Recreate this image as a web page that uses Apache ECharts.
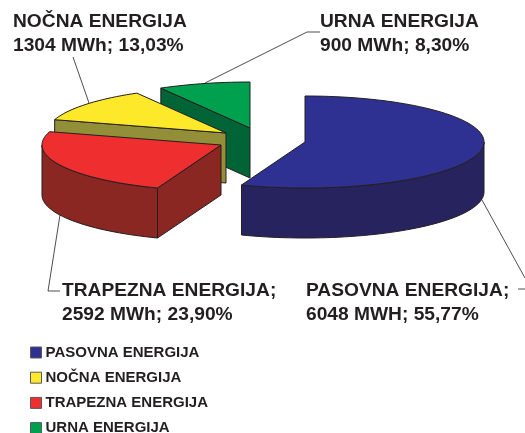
<!DOCTYPE html>
<html><head><meta charset="utf-8">
<style>html,body{margin:0;padding:0;background:#fff;height:433px;overflow:hidden}#c{width:525px;height:450px}</style>
<script src="https://cdn.jsdelivr.net/npm/echarts@6/dist/echarts.min.js"></script>
</head><body><div id="c"></div>
<script>
// Data
var categories = ['PASOVNA ENERGIJA', 'NOČNA ENERGIJA', 'TRAPEZNA ENERGIJA', 'URNA ENERGIJA'];
var mwh = [6048, 1304, 2592, 900];
var valueLabels = ['6048 MWH; 55,77%', '1304 MWh; 13,03%', '2592 MWh; 23,90%', '900 MWh; 8,30%'];
var clockwiseOrder = [0, 2, 1, 3];

// Style and layout
var topColors = ['#2e3192', '#fde92a', '#ee2e2f', '#00a14e'];
var sideColors = ['#27235f', '#938e38', '#8a2722', '#006437'];
var ink = '#231f20';
var RX = 179, RY = 46, DEPTH = 50;
var centers = [[305, 142], [226, 133], [221, 145], [250, 128]];
var drawOrder = [3, 1, 2, 0];
var labelFont = 'bold 19.2px "Liberation Sans", Arial, sans-serif';
var labelPos = [[306, 290.5], [13, 22], [62, 290.5], [320, 22]];
var leaders = [
  [[482, 200], [525, 278]],
  [[89, 103], [73, 57]],
  [[60, 215], [48, 291], [60, 291]],
  [[205, 83], [307, 32], [320, 32]],
  [[518, 289], [525, 289]]
];

var total = mwh.reduce(function (a, b) { return a + b; }, 0);
var startAngle = {}, endAngle = {};
var cum = 0;
clockwiseOrder.forEach(function (i) {
  startAngle[i] = cum / total * 360;
  cum += mwh[i];
  endAngle[i] = cum / total * 360;
});

function pt(c, deg, dy) {
  var t = deg * Math.PI / 180;
  return [c[0] + RX * Math.sin(t), c[1] - RY * Math.cos(t) + (dy || 0)];
}
function arc(c, a, b, dy) {
  var out = [], n = Math.max(2, Math.ceil(Math.abs(b - a) / 2));
  for (var k = 0; k <= n; k++) out.push(pt(c, a + (b - a) * k / n, dy));
  return out;
}
function poly(points, fill, z) {
  return {
    type: 'polygon', z2: z, shape: { points: points },
    style: { fill: fill, stroke: ink, lineWidth: 1, lineJoin: 'round' }
  };
}
function makeRender(i) {
  return function () {
    var c = centers[i], a = startAngle[i], b = endAngle[i], kids = [];
    var side = sideColors[i], top = topColors[i];
    // radial wall on the leading edge (faces the viewer except for the first slice)
    if (a > 0) {
      kids.push(poly([[c[0], c[1]], pt(c, a), pt(c, a, DEPTH), [c[0], c[1] + DEPTH]], side, 1));
    }
    // visible outer wall
    var wa = Math.max(a, 90), wb = Math.min(b, 270);
    if (wb > wa) {
      kids.push(poly(arc(c, wa, wb, 0).concat(arc(c, wb, wa, DEPTH)), side, 2));
    }
    // top
    kids.push(poly([[c[0], c[1]]].concat(arc(c, a, b, 0)), top, 3));
    return { type: 'group', children: kids };
  };
}

var series = drawOrder.map(function (i) {
  return {
    type: 'custom', name: categories[i], coordinateSystem: 'none',
    data: [[mwh[i]]], renderItem: makeRender(i), silent: true, clip: false,
    itemStyle: { color: topColors[i] }, z: 2
  };
});

var graphics = [];
leaders.forEach(function (pts) {
  graphics.push({ type: 'polyline', z: 1, shape: { points: pts }, style: { fill: 'none', stroke: ink, lineWidth: 0.8 } });
});
categories.forEach(function (name, i) {
  var suffix = (i === 0 || i === 2) ? ';' : '';
  graphics.push({ type: 'text', z: 5, x: labelPos[i][0], y: labelPos[i][1],
    style: { text: name + suffix, font: labelFont, fill: ink, verticalAlign: 'middle' } });
  graphics.push({ type: 'text', z: 5, x: labelPos[i][0], y: labelPos[i][1] + 24,
    style: { text: valueLabels[i], font: labelFont, fill: ink, verticalAlign: 'middle' } });
});

var chart = echarts.init(document.getElementById('c'), null, { renderer: 'canvas' });
chart.setOption({
  animation: false,
  backgroundColor: '#fff',
  legend: {
    orient: 'vertical', left: 30, top: 345, padding: 0,
    data: categories, icon: 'rect', itemWidth: 11, itemHeight: 11, itemGap: 10.2,
    selectedMode: false,
    itemStyle: { borderColor: '#58595b', borderWidth: 1 },
    textStyle: { fontFamily: 'Liberation Sans', fontWeight: 'bold', fontSize: 15, lineHeight: 13, color: ink, padding: [0, 0, 0, -1] }
  },
  graphic: graphics,
  series: series
});
</script></body></html>
